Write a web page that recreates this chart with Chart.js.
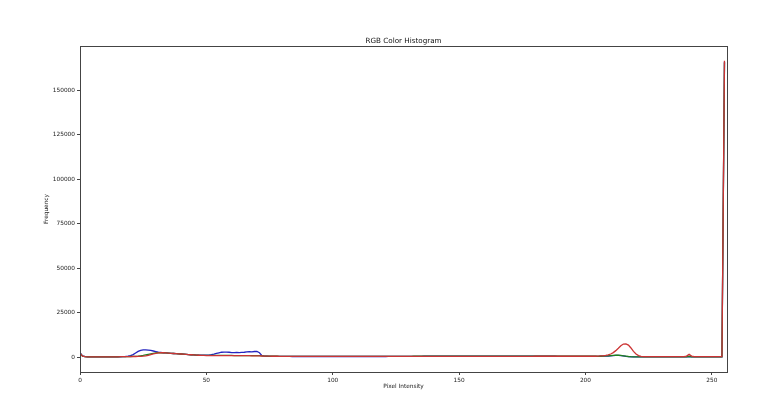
<!DOCTYPE html>
<html>
<head>
<meta charset="utf-8">
<title>RGB Color Histogram</title>
<script src="https://cdn.jsdelivr.net/npm/chart.js@4.4.1/dist/chart.umd.min.js"></script>
<style>
  html, body { margin: 0; padding: 0; background: #fff; }
  #wrap { width: 768px; height: 399px; }
</style>
</head>
<body>
<div id="wrap"><canvas id="histChart" width="768" height="399"></canvas></div>
<script>
// pixel intensities 0..255
const intensities = Array.from({ length: 256 }, (_, i) => i);

const xTicks = [0, 50, 100, 150, 200, 250];
const yTicks = [0, 25000, 50000, 75000, 100000, 125000, 150000];

const chartTitle = 'RGB Color Histogram';

// blue channel counts
const blueCounts = [
  2600, 700, 300, 250, 200, 200, 200, 200, 200, 200, 200, 200, 200, 200, 200, 200,
  250, 300, 400, 600, 900, 1500, 2400, 3300, 3900, 4100, 4100, 4000, 3800, 3500, 3200, 2900,
  2700, 2500, 2400, 2300, 2200, 2100, 2000, 1900, 1800, 1700, 1600, 1500, 1400, 1300, 1200, 1150,
  1100, 1100, 1150, 1200, 1400, 1700, 2100, 2500, 2800, 2900, 2900, 2800, 2600, 2600, 2700, 2600,
  2700, 2800, 3000, 3100, 3000, 3200, 3200, 2500, 900, 600, 550, 500, 500, 450, 450, 450,
  450, 450, 450, 450, 400, 400, 400, 400, 400, 400, 400, 400, 400, 400, 400, 400,
  400, 400, 400, 400, 400, 400, 400, 400, 400, 400, 400, 400, 400, 400, 400, 400,
  400, 400, 400, 400, 400, 400, 400, 400, 400, 400, 450, 450, 450, 450, 450, 450,
  450, 450, 450, 450, 500, 500, 500, 500, 550, 550, 550, 550, 600, 600, 600, 600,
  600, 600, 600, 600, 600, 600, 600, 600, 600, 600, 600, 600, 600, 600, 600, 600,
  600, 600, 600, 600, 600, 600, 600, 600, 600, 600, 600, 600, 600, 600, 600, 600,
  600, 600, 600, 600, 600, 600, 600, 600, 550, 550, 550, 550, 550, 500, 500, 500,
  500, 500, 500, 500, 500, 500, 500, 500, 500, 500, 500, 500, 500, 500, 550, 600,
  650, 700, 800, 900, 1000, 1000, 900, 700, 500, 350, 250, 200, 200, 200, 200, 200,
  200, 200, 200, 200, 200, 200, 200, 200, 200, 200, 200, 200, 200, 200, 200, 200,
  250, 400, 250, 200, 200, 200, 200, 200, 200, 200, 200, 200, 200, 200, 200, 166000
];

// green channel counts
const greenCounts = [
  2300, 650, 300, 250, 200, 200, 200, 200, 200, 200, 200, 200, 200, 200, 250, 250,
  300, 300, 300, 350, 400, 450, 500, 600, 800, 1000, 1300, 1600, 1900, 2200, 2400, 2500,
  2500, 2500, 2400, 2300, 2200, 2100, 2000, 1900, 1800, 1700, 1600, 1500, 1400, 1300, 1200, 1100,
  1050, 1000, 1000, 1000, 1000, 1000, 1000, 1000, 1000, 1000, 1000, 1000, 1000, 950, 950, 950,
  950, 950, 950, 950, 900, 900, 900, 850, 750, 650, 600, 600, 550, 550, 550, 500,
  500, 500, 500, 500, 500, 500, 500, 500, 500, 500, 500, 500, 500, 500, 500, 500,
  500, 500, 500, 500, 450, 450, 450, 450, 450, 450, 450, 450, 450, 450, 450, 450,
  450, 450, 450, 450, 450, 450, 450, 450, 450, 450, 450, 450, 500, 500, 500, 500,
  500, 500, 500, 500, 550, 550, 550, 550, 600, 600, 600, 600, 650, 650, 650, 650,
  650, 650, 650, 650, 650, 650, 650, 650, 650, 650, 650, 650, 650, 650, 650, 650,
  650, 650, 650, 650, 650, 650, 650, 650, 650, 650, 650, 650, 650, 650, 650, 650,
  650, 650, 650, 650, 650, 650, 650, 650, 600, 600, 600, 600, 600, 600, 600, 600,
  600, 600, 600, 600, 600, 600, 600, 600, 600, 600, 600, 600, 550, 500, 550, 600,
  700, 800, 900, 1000, 1100, 1100, 1000, 800, 600, 400, 300, 250, 200, 200, 200, 200,
  200, 200, 200, 200, 200, 200, 200, 200, 200, 200, 200, 200, 200, 200, 200, 200,
  250, 500, 250, 200, 200, 200, 200, 200, 200, 200, 200, 200, 200, 200, 200, 165500
];

// red channel counts
const redCounts = [
  2200, 600, 300, 250, 200, 200, 200, 200, 200, 200, 200, 200, 200, 200, 250, 250,
  300, 300, 300, 350, 350, 400, 400, 450, 500, 600, 800, 1100, 1500, 1900, 2200, 2400,
  2500, 2500, 2400, 2300, 2200, 2100, 2000, 1900, 1800, 1700, 1600, 1500, 1400, 1300, 1200, 1100,
  1000, 1000, 950, 950, 950, 900, 900, 900, 900, 900, 900, 900, 900, 900, 850, 850,
  850, 850, 850, 850, 800, 800, 800, 750, 700, 650, 600, 600, 550, 550, 550, 500,
  500, 500, 500, 500, 500, 500, 500, 500, 500, 500, 500, 500, 500, 500, 500, 500,
  500, 500, 500, 500, 450, 450, 450, 450, 450, 450, 450, 450, 450, 450, 450, 450,
  450, 450, 450, 450, 450, 450, 450, 450, 450, 450, 450, 450, 450, 450, 450, 450,
  450, 450, 450, 450, 450, 450, 450, 450, 450, 450, 450, 450, 500, 500, 500, 500,
  500, 500, 500, 500, 500, 500, 500, 500, 500, 500, 500, 500, 500, 500, 500, 500,
  500, 500, 500, 500, 500, 500, 500, 500, 500, 500, 500, 500, 500, 500, 500, 500,
  500, 500, 500, 500, 550, 550, 550, 550, 550, 550, 550, 550, 550, 550, 550, 550,
  550, 550, 550, 550, 550, 550, 550, 550, 550, 550, 550, 550, 550, 600, 700, 800,
  1000, 1300, 1800, 2600, 3700, 5000, 6400, 7400, 7500, 6800, 5200, 3300, 1800, 900, 500, 350,
  300, 300, 300, 300, 300, 300, 300, 300, 300, 300, 300, 300, 300, 300, 300, 300,
  600, 1600, 600, 300, 300, 300, 300, 300, 300, 300, 300, 300, 300, 300, 300, 166500
];

function toPoints(counts) {
  return intensities.map((x, i) => ({ x: x, y: counts[i] }));
}

// box around the plot (matplotlib spines) and the title centred over the plot
const frameBox = {
  id: 'frameBox',
  afterDraw(chart) {
    const a = chart.chartArea;
    const ctx = chart.ctx;
    ctx.save();
    ctx.strokeStyle = '#444';
    ctx.lineWidth = 1;
    ctx.strokeRect(Math.round(a.left) + 0.5, Math.round(a.top) + 0.5,
      Math.round(a.right - a.left), Math.round(a.bottom - a.top));
    ctx.fillStyle = '#111';
    ctx.font = '7.2px "DejaVu Sans"';
    ctx.textAlign = 'center';
    ctx.textBaseline = 'alphabetic';
    ctx.fillText(chartTitle, (a.left + a.right) / 2, a.top - 3);
    ctx.restore();
  }
};

const tickFont = { family: 'DejaVu Sans', size: 5.8 };
const labelFont = { family: 'DejaVu Sans', size: 5.8 };

const ctx = document.getElementById('histChart').getContext('2d');
new Chart(ctx, {
  type: 'line',
  data: {
    datasets: [
      { label: 'blue', data: toPoints(blueCounts), borderColor: '#2424c0', order: 3 },
      { label: 'green', data: toPoints(greenCounts), borderColor: '#1f801f', order: 2 },
      { label: 'red', data: toPoints(redCounts), borderColor: '#cc3434', order: 1 }
    ]
  },
  options: {
    responsive: false,
    animation: false,
    elements: {
      point: { radius: 0 },
      line: { borderWidth: 1.3, tension: 0 }
    },
    layout: { padding: { left: 0, right: 41, top: 46, bottom: 0 } },
    plugins: {
      legend: { display: false },
      tooltip: { enabled: false },
      title: { display: false }
    },
    scales: {
      x: {
        type: 'linear',
        min: 0,
        max: 256,
        afterBuildTicks(scale) {
          scale.ticks = xTicks.map(v => ({ value: v }));
        },
        afterFit(scale) { scale.height = 27; },
        grid: { display: true, drawOnChartArea: false, drawTicks: true, tickLength: 3, color: '#444' },
        border: { display: true, color: '#444' },
        ticks: { font: tickFont, color: '#1a1a1a', padding: 2, maxRotation: 0 },
        title: {
          display: true,
          text: 'Pixel Intensity',
          color: '#1a1a1a',
          font: labelFont,
          padding: { top: 0, bottom: 9 }
        }
      },
      y: {
        min: -8300,
        max: 174800,
        afterBuildTicks(scale) {
          scale.ticks = yTicks.map(v => ({ value: v }));
        },
        afterFit(scale) { scale.width = 80; },
        grid: { display: true, drawOnChartArea: false, drawTicks: true, tickLength: 3, color: '#444' },
        border: { display: true, color: '#444' },
        ticks: { font: tickFont, color: '#1a1a1a', padding: 2, callback: v => String(v) },
        title: {
          display: true,
          text: 'Frequency',
          color: '#1a1a1a',
          font: labelFont,
          padding: { top: 43, bottom: 0 }
        }
      }
    }
  },
  plugins: [frameBox]
});
</script>
</body>
</html>
